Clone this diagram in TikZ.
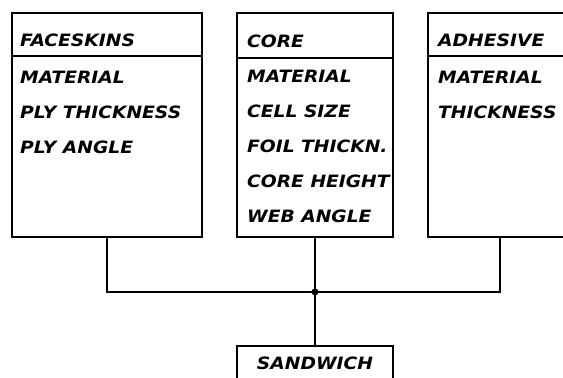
\documentclass[tikz,border=0pt]{standalone}
\usepackage{fontspec}
\newfontfamily\plotter[FakeStretch=1.1]{DejaVu Sans}
\usepackage{tikz}
\usetikzlibrary{positioning}

\begin{document}
\begin{tikzpicture}[
  x=1pt,y=-1pt,
  frame/.style={draw,line width=1.8pt,minimum height=224pt,inner sep=0pt},
  title/.style={anchor=base west,inner sep=0pt,
    font=\plotter\bfseries\itshape\fontsize{17}{17}\selectfont},
  entry/.style={title},
  link/.style={line width=2pt}
]
\useasboundingbox (0,0) rectangle (563,378);
\clip (0,0) rectangle (563,378);
% the three property boxes
\node[frame,minimum width=190pt] (face) at (107,125) {};
\node[frame,minimum width=156pt] (core) at (315,125) {};
\node[frame,minimum width=144pt] (adh) at (500,125) {};
\node[frame,minimum width=156pt,minimum height=60pt,anchor=north] (sand) at (315,345) {};
% header lines
\draw[link] ([yshift=-44pt]face.north west) -- ([yshift=-44pt]face.north east);
\draw[link] ([yshift=-46pt]core.north west) -- ([yshift=-46pt]core.north east);
\draw[link] ([yshift=-44pt]adh.north west) -- ([yshift=-44pt]adh.north east);
% titles
\node[title] (faceTitle) at (20,46) {FACESKINS};
\node[title] (coreTitle) at (247,47) {CORE};
\node[title] (adhTitle) at (438,46) {ADHESIVE};
\node[title,anchor=base] (sandTitle) at (315,369) {SANDWICH};
% entries
\foreach \txt [count=\i] in {MATERIAL,PLY THICKNESS,PLY ANGLE}
  \node[entry] (face\i) at (20,48+35*\i) {\txt};
\foreach \txt [count=\i] in {MATERIAL,CELL SIZE,FOIL THICKN.,CORE HEIGHT,WEB ANGLE}
  \node[entry] (core\i) at (247,48+34.8*\i) {\txt};
\foreach \txt [count=\i] in {MATERIAL,THICKNESS}
  \node[entry] (adh\i) at (438,48+35*\i) {\txt};
% connectors
\coordinate (hub) at ([yshift=-54pt]core.south);
\draw[link] (face.south) |- (hub) -| (adh.south);
\draw[link] (core.south) -- (sand.north);
\fill (hub) circle (3.5pt);
\end{tikzpicture}
\end{document}
